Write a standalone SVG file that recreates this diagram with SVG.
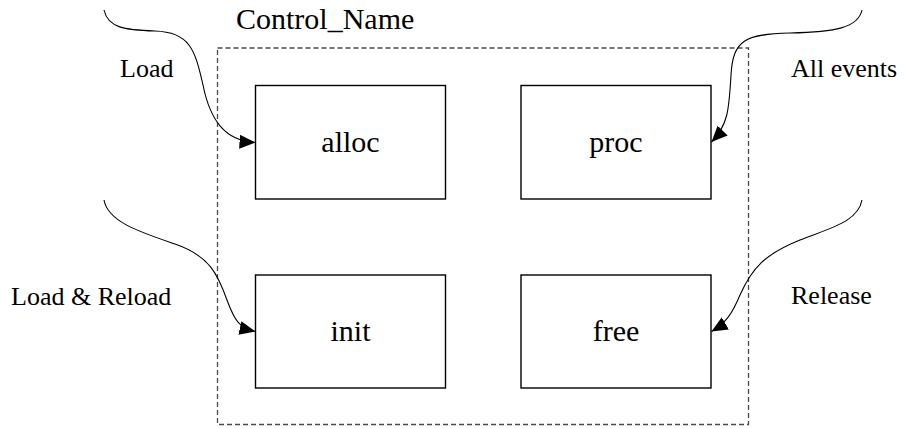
<svg xmlns="http://www.w3.org/2000/svg" width="904" height="428" viewBox="0 0 904 428">
  <style>
    .box { fill: #ffffff; stroke: #000000; stroke-width: 1.4; }
    .frame { fill: none; stroke: #4a4a4a; stroke-width: 1.3; stroke-dasharray: 5 3; }
    text { font-family: 'Liberation Serif', 'DejaVu Serif', 'Times New Roman', serif; fill: #000000; }
    .title { font-size: 30px; }
    .label { font-size: 26px; }
    .wire { fill: none; stroke: #000000; stroke-width: 1.1; marker-end: url(#arrow); }
  </style>
  <defs>
    <marker id="arrow" markerUnits="userSpaceOnUse" markerWidth="18" markerHeight="16" refX="16" refY="7" orient="auto">
      <path d="M0,0 L16,7 L0,14 Z" fill="#000000"/>
    </marker>
  </defs>
  <rect width="904" height="428" fill="#ffffff"/>

  <!-- component frame -->
  <g id="control">
    <rect class="frame" x="217.5" y="48" width="531" height="376.5"/>
    <text class="title" x="236" y="29" font-family="Liberation Serif, serif">Control_Name</text>
  </g>

  <g id="alloc">
    <rect class="box" x="255.5" y="85.5" width="190" height="113.5"/>
    <text class="title" x="350.5" y="152" text-anchor="middle" font-family="Liberation Serif, serif">alloc</text>
  </g>
  <g id="proc">
    <rect class="box" x="521" y="85.5" width="190" height="113.5"/>
    <text class="title" x="616" y="152" text-anchor="middle" font-family="Liberation Serif, serif">proc</text>
  </g>
  <g id="init">
    <rect class="box" x="255.5" y="275" width="190" height="113"/>
    <text class="title" x="350.5" y="341" text-anchor="middle" font-family="Liberation Serif, serif">init</text>
  </g>
  <g id="free">
    <rect class="box" x="521" y="275" width="190" height="113"/>
    <text class="title" x="616" y="341" text-anchor="middle" font-family="Liberation Serif, serif">free</text>
  </g>

  <!-- event labels -->
  <g id="labels" font-family="Liberation Serif, serif">
    <text class="label" x="120" y="77">Load</text>
    <text class="label" x="791" y="77">All events</text>
    <text class="label" x="11" y="305">Load &amp; Reload</text>
    <text class="label" x="791" y="304">Release</text>
  </g>

  <!-- event connectors -->
  <g id="connectors">
    <path class="wire" d="M104,10 C108,28 125,30 155,31 C190,32 195,50 203,85 C210,120 225,141 255.5,142.5"/>
    <path class="wire" d="M862,10 C858,28 835,32 790,33 C745,34 733,40 731,75 C729,110 728,125 711.5,142"/>
    <path class="wire" d="M104,200 C108,222 140,232 175,244 C210,256 218,275 227,300 C235,322 240,328 255.5,331.5"/>
    <path class="wire" d="M862,200 C858,222 830,228 800,240 C765,254 752,268 740,295 C732,314 726,323 711.5,331.5"/>
  </g>
</svg>
